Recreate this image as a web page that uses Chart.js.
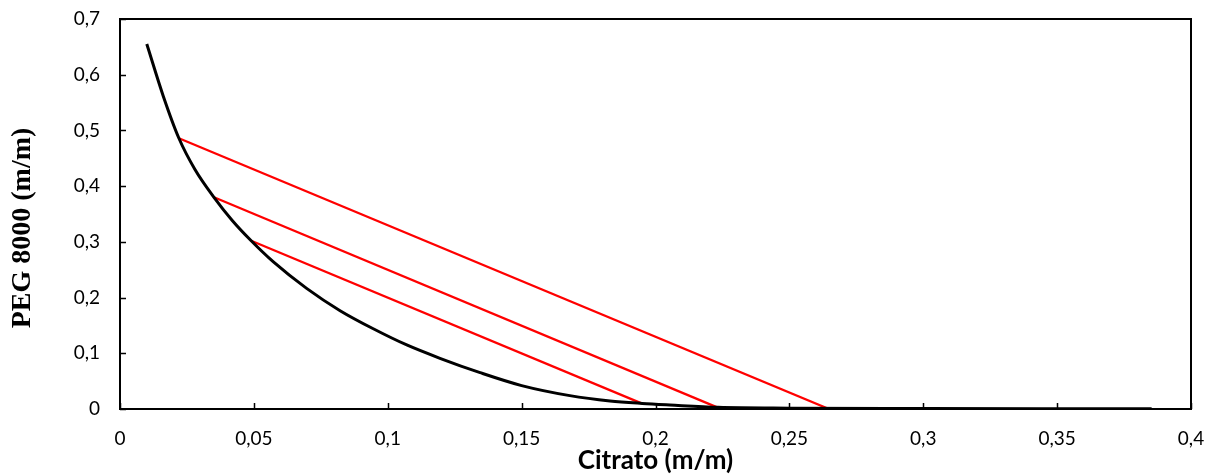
<!DOCTYPE html>
<html>
<head>
<meta charset="utf-8">
<script src="https://cdn.jsdelivr.net/npm/chart.js@4/dist/chart.umd.min.js"></script>
<style>
  html, body { margin: 0; padding: 0; background: #fff; }
  #wrap { width: 1220px; height: 476px; }
</style>
</head>
<body>
<div id="wrap"><canvas id="chart" width="1220" height="476"></canvas></div>
<script>
// binodal curve (black)
const curveX = [0.0100, 0.0162, 0.0220, 0.0280, 0.0351, 0.0420, 0.0490, 0.0573, 0.0697, 0.0822,
                0.0946, 0.1071, 0.1195, 0.1345, 0.1500, 0.1680, 0.1830, 0.1950, 0.2054, 0.2234,
                0.2500, 0.3000, 0.3500, 0.3853];
const curveY = [0.655, 0.561, 0.486, 0.430, 0.380, 0.338, 0.302, 0.2640, 0.2165, 0.1765,
                0.144, 0.1149, 0.0910, 0.0652, 0.042, 0.024, 0.0144, 0.010, 0.0072, 0.003,
                0.0015, 0.0008, 0.0005, 0.0004];

// tie lines (red)
const tieStartX = [0.0220, 0.0351, 0.0490];
const tieStartY = [0.486, 0.380, 0.302];
const tieEndX = [0.2648, 0.2235, 0.1948];
const tieEndY = [0.000, 0.002, 0.010];

const xTicks = [0, 0.05, 0.1, 0.15, 0.2, 0.25, 0.3, 0.35, 0.4];
const xTickLabels = ['0', '0,05', '0,1', '0,15', '0,2', '0,25', '0,3', '0,35', '0,4'];
const yTicks = [0, 0.1, 0.2, 0.3, 0.4, 0.5, 0.6, 0.7];
const yTickLabels = ['0', '0,1', '0,2', '0,3', '0,4', '0,5', '0,6', '0,7'];

const datasets = [{
    data: curveX.map((x, i) => ({x: x, y: curveY[i]})),
    borderColor: '#000',
    borderWidth: 3,
    pointRadius: 0,
    showLine: true,
    cubicInterpolationMode: 'monotone'
}];
tieStartX.forEach((x, i) => {
    datasets.push({
        data: [{x: x, y: tieStartY[i]}, {x: tieEndX[i], y: tieEndY[i]}],
        borderColor: '#ff0000',
        borderWidth: 2.3,
        pointRadius: 0,
        showLine: true
    });
});

// frame + inward tick marks
const framePlugin = {
    id: 'frame',
    afterDraw(chart) {
        const ctx = chart.ctx;
        const a = chart.chartArea;
        const xs = chart.scales.x, ys = chart.scales.y;
        ctx.save();
        ctx.strokeStyle = '#000';
        ctx.lineWidth = 2;
        ctx.strokeRect(a.left, a.top, a.right - a.left, a.bottom - a.top);
        ctx.beginPath();
        xTicks.forEach(v => {
            const px = Math.round(xs.getPixelForValue(v)) + 0.5;
            ctx.moveTo(px, a.bottom);
            ctx.lineTo(px, a.bottom - 6);
        });
        yTicks.forEach(v => {
            const py = Math.round(ys.getPixelForValue(v)) + 0.5;
            ctx.moveTo(a.left, py);
            ctx.lineTo(a.left + 6, py);
        });
        ctx.lineWidth = 1.5;
        ctx.stroke();
        ctx.restore();
    }
};

new Chart(document.getElementById('chart'), {
    type: 'scatter',
    data: {datasets: datasets},
    plugins: [framePlugin],
    options: {
        responsive: false,
        animation: false,
        layout: {padding: {left: 0, top: 19, right: 29, bottom: 0}},
        plugins: {legend: {display: false}, tooltip: {enabled: false}},
        scales: {
            x: {
                type: 'linear',
                min: 0, max: 0.4,
                afterBuildTicks: s => { s.ticks = xTicks.map(v => ({value: v})); },
                afterFit: s => { s.height = 67; s.paddingLeft = 0; s.paddingRight = 0; },
                grid: {display: true, drawOnChartArea: false, drawTicks: false},
                border: {display: false},
                ticks: {
                    padding: 18,
                    color: '#000',
                    font: {family: 'Lato', size: 19},
                    maxRotation: 0,
                    callback: (v, i) => xTickLabels[i]
                },
                title: {
                    display: true,
                    text: 'Citrato (m/m)',
                    color: '#000',
                    font: {family: 'Lato', size: 26, weight: 'bold'},
                    padding: {top: 0, bottom: 0}
                }
            },
            y: {
                type: 'linear',
                min: 0, max: 0.7,
                afterBuildTicks: s => { s.ticks = yTicks.map(v => ({value: v})); },
                afterFit: s => { s.width = 120; s.paddingTop = 0; s.paddingBottom = 0; },
                grid: {display: true, drawOnChartArea: false, drawTicks: false},
                border: {display: false},
                ticks: {
                    padding: 20,
                    color: '#000',
                    font: {family: 'Lato', size: 19},
                    callback: (v, i) => yTickLabels[i]
                },
                title: {
                    display: true,
                    text: 'PEG 8000 (m/m)\u00a0\u00a0\u00a0\u00a0',
                    color: '#000',
                    font: {family: 'Liberation Serif', size: 28, weight: 'bold'},
                    padding: {top: 6, bottom: 0}
                }
            }
        }
    }
});
</script>
</body>
</html>
